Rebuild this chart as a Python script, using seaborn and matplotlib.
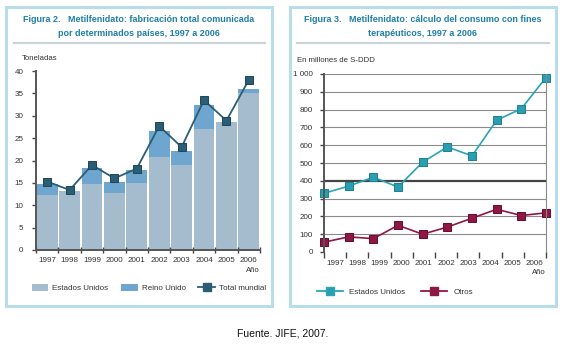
import numpy as np
import pandas as pd
import matplotlib
matplotlib.use("Agg")
import matplotlib.pyplot as plt
import seaborn as sns
from matplotlib.patches import Rectangle
from matplotlib.lines import Line2D
from matplotlib.patches import Patch

years = ["1997", "1998", "1999", "2000", "2001", "2002", "2003", "2004", "2005", "2006"]

# Figura 2: toneladas
estados_unidos_t = [12.3, 13.2, 14.8, 12.8, 15.0, 20.7, 18.9, 27.0, 28.5, 35.0]
reino_unido_t = [2.4, 0.0, 3.5, 2.5, 2.8, 5.8, 3.3, 5.3, 0.0, 1.0]
total_mundial = [15.3, 13.4, 19.0, 16.0, 18.2, 27.7, 23.0, 33.5, 28.9, 38.0]

# Figura 3: millones de S-DDD
consumo_eeuu = [330, 370, 420, 365, 505, 590, 540, 740, 805, 980]
consumo_otros = [55, 85, 75, 150, 100, 140, 190, 240, 205, 220]

FONT = ["Liberation Sans", "DejaVu Sans"]
plt.rcParams["font.family"] = FONT
TITLE_C = "#1f7fa8"
BOX_C = "#b9dcea"
US_C = "#a5bccf"
UK_C = "#6ea6d0"
TOT_C = "#2b5d74"
US3_C = "#2aa5b6"
OT_C = "#8e1744"
TXT_C = "#333333"
W, H = 565, 350

fig = plt.figure(figsize=(5.65, 3.5), dpi=100)


def px_axes(x0, y0, x1, y1):
    return fig.add_axes([x0 / W, 1 - y1 / H, (x1 - x0) / W, (y1 - y0) / H])


def fx(x):
    return x / W


def fy(y):
    return 1 - y / H


# panel frames
for x0, x1 in [(6, 272), (290, 556)]:
    fig.patches.append(Rectangle((fx(x0), fy(306)), fx(x1 - x0), (306 - 7) / H,
                                 transform=fig.transFigure, fill=False,
                                 edgecolor=BOX_C, lw=2.2))
for x0, x1 in [(14, 265), (297, 549)]:
    fig.add_artist(Line2D([fx(x0), fx(x1)], [fy(43), fy(43)], color="#c9d3d8", lw=1.6))

tkw = dict(ha="center", va="center", color=TITLE_C, fontsize=6.5, fontweight="bold")
fig.text(fx(139), fy(19), "Figura 2.   Metilfenidato: fabricación total comunicada", **tkw)
fig.text(fx(139), fy(33), "por determinados países, 1997 a 2006", **tkw)
fig.text(fx(423), fy(19), "Figura 3.   Metilfenidato: cálculo del consumo con fines", **tkw)
fig.text(fx(423), fy(33), "terapéuticos, 1997 a 2006", **tkw)

# ---- Figura 2 ----
ax1 = px_axes(36, 71, 260, 250)
df1 = pd.DataFrame({"year": years, "us": estados_unidos_t,
                    "bar": np.array(estados_unidos_t) + np.array(reino_unido_t)})
sns.barplot(data=df1, x="year", y="bar", color=UK_C, width=0.93, saturation=1, ax=ax1)
sns.barplot(data=df1, x="year", y="us", color=US_C, width=0.93, saturation=1, ax=ax1)
sns.lineplot(x=np.arange(len(years)), y=total_mundial, color=TOT_C, lw=1.3,
             marker="s", markersize=5.2, markerfacecolor=TOT_C, markeredgecolor="#1d4a5e",
             clip_on=False, ax=ax1)
ax1.set_xlim(-0.5, 9.5)
ax1.set_ylim(0, 40)
ax1.set_yticks(range(0, 41, 5))
ax1.set_xticks(np.arange(10))
ax1.set_xticklabels(years)
ax1.set_xticks(np.arange(-0.5, 10, 1), minor=True)
ax1.tick_params(axis="x", which="major", length=0, labelsize=5.8, pad=5, labelcolor=TXT_C)
ax1.tick_params(axis="x", which="minor", length=4, width=1, color="#444", direction="inout")
ax1.tick_params(axis="y", length=3, width=1, color="#444", labelsize=5.8, pad=6,
                labelcolor=TXT_C)
ax1.set_xlabel("")
ax1.set_ylabel("")
for s in ["top", "right"]:
    ax1.spines[s].set_visible(False)
for s in ["left", "bottom"]:
    ax1.spines[s].set_color("#555")
    ax1.spines[s].set_linewidth(1.4)
ax1.set_facecolor("white")
fig.text(fx(22), fy(58), "Toneladas", fontsize=5.6, va="center", color=TXT_C)
fig.text(fx(260), fy(271), "Año", fontsize=5.6, va="center", ha="right", color=TXT_C)
leg1 = [Patch(facecolor=US_C, label="Estados Unidos"),
        Patch(facecolor=UK_C, label="Reino Unido"),
        Line2D([], [], color=TOT_C, lw=1.3, marker="s", markersize=5.2, label="Total mundial")]
fig.legend(handles=leg1, loc="center", bbox_to_anchor=(fx(149), fy(288)), ncol=3,
           frameon=False, fontsize=5.8, handlelength=2.0, handleheight=1.0,
           columnspacing=1.6, handletextpad=0.5, labelcolor=TXT_C)

# ---- Figura 3 ----
ax2 = px_axes(324, 74, 546, 252)
for v in range(100, 1001, 100):
    ax2.axhline(v, color="#444" if v == 400 else "#8a8a8a",
                lw=1.6 if v == 400 else 0.8, zorder=0)
df2 = pd.DataFrame({"pos": np.arange(len(years)), "eeuu": consumo_eeuu, "otros": consumo_otros})
sns.lineplot(data=df2, x="pos", y="eeuu", color=US3_C, lw=1.2, marker="s", markersize=5.2,
             markerfacecolor="#2a9fb2", markeredgecolor="#1f8394", clip_on=False, ax=ax2)
sns.lineplot(data=df2, x="pos", y="otros", color=OT_C, lw=1.2, marker="s", markersize=5.2,
             markerfacecolor=OT_C, markeredgecolor="#6a0f30", clip_on=False, ax=ax2)
ax2.set_xlim(0, 9)
ax2.set_ylim(0, 1000)
ax2.set_yticks(range(0, 1001, 100))
ax2.set_yticklabels(["0", "100", "200", "300", "400", "500", "600", "700",
                     "800", "900", "1 000"])
ax2.set_xticks([(j + 0.5) * 0.9 for j in range(10)])
ax2.set_xticklabels(years)
ax2.set_xticks([j * 0.9 for j in range(11)], minor=True)
ax2.tick_params(axis="x", which="major", length=0, labelsize=5.8, pad=6, labelcolor=TXT_C)
ax2.tick_params(axis="x", which="minor", length=4, width=1, color="#444", direction="out")
ax2.tick_params(axis="y", length=3, width=1, color="#444", labelsize=5.8, pad=5,
                labelcolor=TXT_C)
ax2.set_xlabel("")
ax2.set_ylabel("")
ax2.spines["top"].set_visible(False)
ax2.spines["bottom"].set_visible(False)
ax2.spines["right"].set_color("#8a8a8a")
ax2.spines["right"].set_linewidth(0.8)
ax2.spines["left"].set_color("#555")
ax2.spines["left"].set_linewidth(1.4)
fig.text(fx(297), fy(60), "En millones de S-DDD", fontsize=5.6, va="center", color=TXT_C)
fig.text(fx(546), fy(273), "Año", fontsize=5.6, va="center", ha="right", color=TXT_C)
leg2 = [Line2D([], [], color=US3_C, lw=1.3, marker="s", markersize=5.2,
               markerfacecolor="#2a9fb2", label="Estados Unidos"),
        Line2D([], [], color=OT_C, lw=1.3, marker="s", markersize=5.2, label="Otros")]
fig.legend(handles=leg2, loc="center", bbox_to_anchor=(fx(395), fy(292)), ncol=2,
           frameon=False, fontsize=5.8, handlelength=3.2, columnspacing=2.0,
           handletextpad=0.8, labelcolor=TXT_C)

fig.text(0.5, fy(333), "Fuente. JIFE, 2007.", ha="center", va="center", fontsize=7.5,
         color="#111")

fig.savefig("out.png", dpi=100, facecolor="white")
